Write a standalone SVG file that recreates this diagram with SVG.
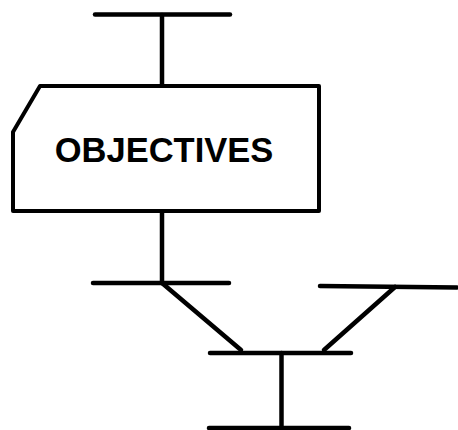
<svg xmlns="http://www.w3.org/2000/svg" width="458" height="430" viewBox="0 0 458 430">
  <style>
    .ln { stroke: #000; stroke-width: 4.5; stroke-linecap: round; fill: none; }
    .box { stroke: #000; stroke-width: 4; stroke-linejoin: round; fill: #fff; }
    .lbl { font-family: "Liberation Sans", Arial, sans-serif; font-weight: bold; font-size: 34.5px; fill: #000; }
  </style>
  <rect width="458" height="430" fill="#fff"/>
  <g id="connectors">
    <line class="ln" x1="95" y1="14.5" x2="230" y2="14.5"/>
    <line class="ln" x1="162" y1="15" x2="162" y2="86"/>
    <line class="ln" x1="162" y1="211" x2="162" y2="283"/>
    <line class="ln" x1="93" y1="283" x2="229" y2="283"/>
    <line class="ln" x1="320" y1="286" x2="457" y2="287.5"/>
    <line class="ln" x1="162" y1="283" x2="241" y2="350"/>
    <line class="ln" x1="395" y1="287" x2="324" y2="350"/>
    <line class="ln" x1="210" y1="353" x2="351" y2="353"/>
    <line class="ln" x1="281.5" y1="353" x2="281.5" y2="428"/>
    <line class="ln" x1="209" y1="428" x2="349" y2="428"/>
  </g>
  <g id="objectives">
    <path class="box" d="M40 86 L319 86 L319 211 L13 211 L13 132 Z"/>
    <text class="lbl" x="164" y="162" text-anchor="middle">OBJECTIVES</text>
  </g>
</svg>
